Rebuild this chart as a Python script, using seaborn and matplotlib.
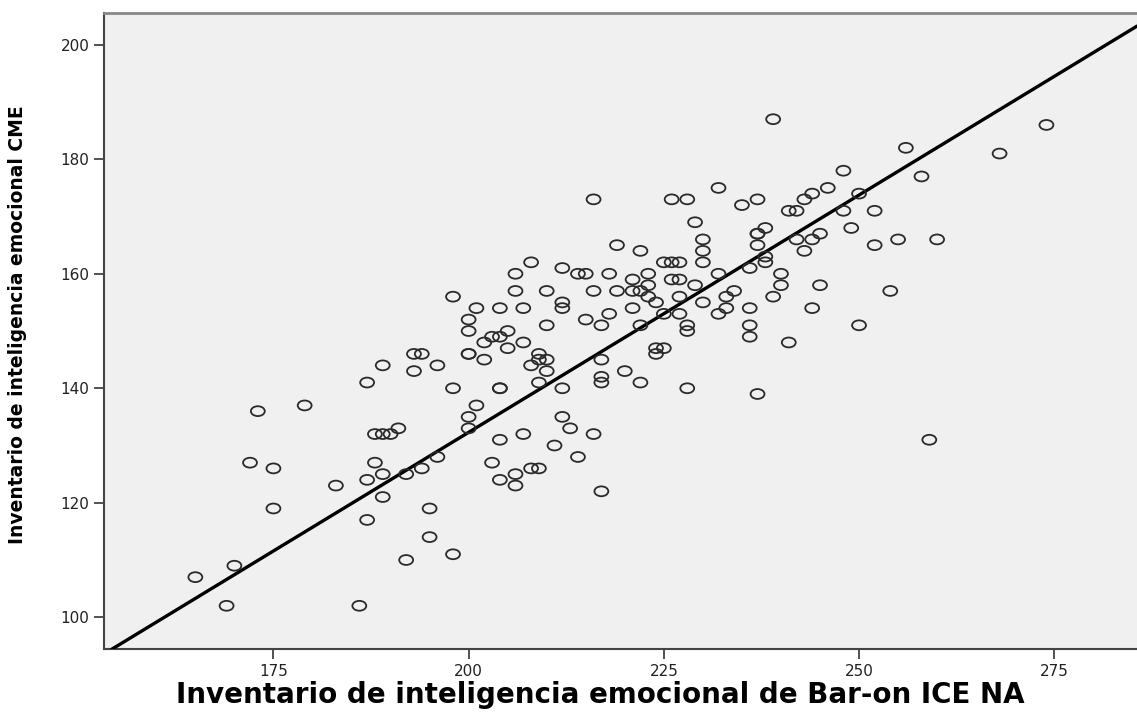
import numpy as np
import pandas as pd
import matplotlib
matplotlib.use("Agg")
import matplotlib.pyplot as plt
from matplotlib.path import Path
from matplotlib.markers import MarkerStyle
from matplotlib.transforms import Affine2D
import seaborn as sns

# Data (Bar-On ICE NA vs CME)
bar_on = [
    239, 216, 226, 228, 232, 235, 237, 241, 229,
    274, 268, 256, 258, 248, 246, 244, 243, 250, 248, 252, 242,
    249, 245, 244, 242, 243, 252, 255, 260, 240, 240, 245, 254, 244, 250, 241, 239,
    259,
    198, 217, 203, 204, 206, 206, 208, 209, 204, 207, 211, 214, 213, 216, 200,
    165, 169, 170, 186, 192, 195, 195, 175, 172, 175, 183, 187, 187, 188, 189, 189,
    192, 194, 196, 188, 189, 190, 191,
    173, 179, 187, 189, 193, 194, 193, 196, 198, 198,
    238, 237, 237, 237, 230, 230, 230, 219, 222, 225, 226, 227, 238, 238, 236, 232,
    208, 206, 212, 214, 215, 218, 223, 221, 223, 226, 227, 229, 206, 210, 216, 219,
    221, 222, 223, 224, 227, 230, 234, 233, 233, 232, 236, 236, 236, 201, 204, 207,
    200, 200, 212, 212, 215, 218, 221, 217, 210, 222, 225, 227, 228, 228, 205, 203,
    204, 202, 205, 207, 200, 200, 202, 209, 209, 210, 208, 210, 209, 204, 204, 212,
    217, 217, 217, 220, 222, 224, 225, 224, 228, 237, 201, 200, 212,
]
cme = [
    187, 173, 173, 173, 175, 172, 173, 171, 169,
    186, 181, 182, 177, 178, 175, 174, 173, 174, 171, 171, 171,
    168, 167, 166, 166, 164, 165, 166, 166, 160, 158, 158, 157, 154, 151, 148, 156,
    131,
    111, 122, 127, 124, 125, 123, 126, 126, 131, 132, 130, 128, 133, 132, 133,
    107, 102, 109, 102, 110, 114, 119, 119, 127, 126, 123, 124, 117, 127, 125, 121,
    125, 126, 128, 132, 132, 132, 133,
    136, 137, 141, 144, 146, 146, 143, 144, 156, 140,
    168, 167, 167, 165, 166, 164, 162, 165, 164, 162, 162, 162, 163, 162, 161, 160,
    162, 160, 161, 160, 160, 160, 160, 159, 158, 159, 159, 158, 157, 157, 157, 157,
    157, 157, 156, 155, 156, 155, 157, 156, 154, 153, 154, 151, 149, 154, 154, 154,
    152, 150, 155, 154, 152, 153, 154, 151, 151, 151, 153, 153, 151, 150, 150, 149,
    149, 148, 147, 148, 146, 146, 145, 146, 145, 145, 144, 143, 141, 140, 140, 140,
    145, 142, 141, 143, 141, 147, 147, 146, 140, 139, 137, 135, 135,
]

# fit line (slope / intercept)
fit_slope = 0.829
fit_intercept = -33.5

x_ticks = [175, 200, 225, 250, 275]
y_ticks = [100, 120, 140, 160, 180, 200]
x_label = "Inventario de inteligencia emocional de Bar-on ICE NA"
y_label = "Inventario de inteligencia emocional CME"

df = pd.DataFrame({"x": bar_on, "y": cme})

sns.set_style("white")
plt.rcParams["font.family"] = ["DejaVu Sans"]

fig = plt.figure(figsize=(11.37, 7.15), dpi=100)
ax = fig.add_axes([104 / 1137, 65.7 / 715, 1 - 104 / 1137, (649.3 - 13.3) / 715])
ax.set_facecolor("#F0F0F0")
ax.set_xlim(153.3, 285.6)
ax.set_ylim(94.4, 205.5)

# elliptical hollow marker (the reference is horizontally stretched)
ell = Path.unit_circle().transformed(Affine2D().scale(1.0, 0.71))
marker = MarkerStyle(ell)

sns.scatterplot(data=df, x="x", y="y", ax=ax, marker=marker, s=100,
                facecolor="none", edgecolor="#2a2a2a", linewidth=1.3, zorder=4)
ax.axline((0, fit_intercept), slope=fit_slope, color="black", lw=2.4, zorder=3)

ax.set_xlim(153.3, 285.6)
ax.set_ylim(94.4, 205.5)
ax.set_xticks(x_ticks)
ax.set_yticks(y_ticks)
ax.tick_params(axis="both", direction="out", length=7, width=1.2, color="#333333",
               labelsize=11, labelcolor="#222222", bottom=True, left=True)

for side in ["left", "bottom"]:
    ax.spines[side].set_color("#444444")
    ax.spines[side].set_linewidth(1.5)
ax.spines["top"].set_color("#888888")
ax.spines["top"].set_linewidth(2)
ax.spines["right"].set_visible(False)

ax.set_xlabel(x_label, fontsize=20, fontweight="bold", color="black")
ax.set_ylabel(y_label, fontsize=13.5, fontweight="bold", color="black")
ax.xaxis.set_label_coords((600 - 104) / 1033, -46 / 636)
ax.yaxis.set_label_coords((18 - 104) / 1033, 0.51)
ax.xaxis.label.set_va("center")
ax.yaxis.label.set_va("center")

fig.savefig("out.png", dpi=100, facecolor="white")
